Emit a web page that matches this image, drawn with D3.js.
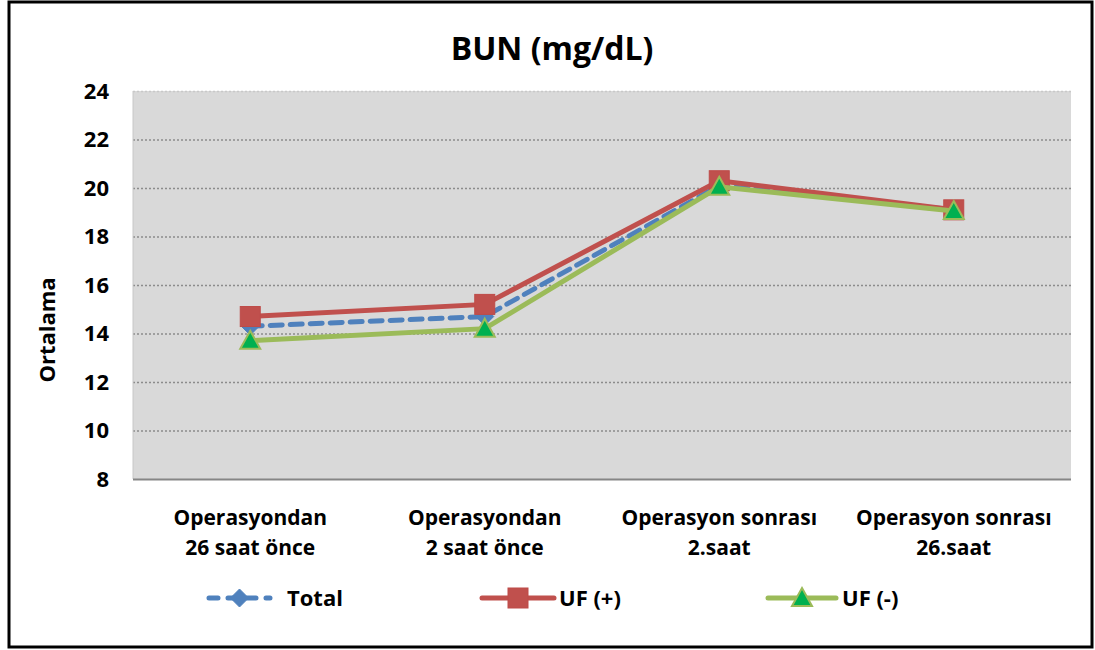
<!DOCTYPE html>
<html><head><meta charset="utf-8">
<script src="https://cdn.jsdelivr.net/npm/d3@7"></script>
<style>body{margin:0;background:#fff;}svg{display:block;font-family:"Open Sans",Lato,sans-serif;}</style>
</head><body><svg id="c" width="1095" height="650"></svg>
<script>
const categories = [["Operasyondan","26 saat önce"],["Operasyondan","2 saat önce"],["Operasyon sonrası","2.saat"],["Operasyon sonrası","26.saat"]];
const seriesNames = ["Total","UF (+)","UF (-)"];
const totalValues = [14.3, 14.7, 20.1, 19.1];
const ufPlusValues = [14.7, 15.2, 20.3, 19.1];
const ufMinusValues = [13.7, 14.2, 20.05, 19.05];
const yTicks = [8,10,12,14,16,18,20,22,24];
const title = "BUN (mg/dL)";
const yTitle = "Ortalama";

const svg = d3.select("#c");
svg.append("rect").attr("x",9).attr("y",2).attr("width",1083).attr("height",645)
  .attr("fill","#fff").attr("stroke","#000").attr("stroke-width",3);

const L=133, R=1071, T=91, B=479;
const x = d3.scaleBand().domain(d3.range(categories.length)).range([L,R]);
const y = d3.scaleLinear().domain([8,24]).range([B,T]);

svg.append("rect").attr("x",L).attr("y",T).attr("width",R-L).attr("height",B-T).attr("fill","#d9d9d9");
svg.append("g").selectAll("line").data(yTicks.filter(t=>t>8)).join("line")
  .attr("x1",L).attr("x2",R).attr("y1",d=>y(d)+0.5).attr("y2",d=>y(d)+0.5)
  .attr("stroke",d=>d===24?"#c8c8c8":"#8c8c8c").attr("stroke-width",1.5).attr("stroke-dasharray","2,2");
svg.append("line").attr("x1",L).attr("x2",L).attr("y1",T).attr("y2",B).attr("stroke","#c8c8c8").attr("stroke-width",1);
const yAxis = d3.axisLeft(y).tickValues(yTicks).tickSize(0).tickPadding(24);
const ga = svg.append("g").attr("transform",`translate(${L},0)`).call(yAxis);
ga.select(".domain").remove();
ga.selectAll("text").attr("font-size",22).attr("font-weight","bold").attr("fill","#000").attr("font-family","'Open Sans',sans-serif");
svg.append("line").attr("x1",L).attr("x2",R).attr("y1",B+0.5).attr("y2",B+0.5).attr("stroke","#868686").attr("stroke-width",2);
const cg = svg.append("g");
categories.forEach((c,i)=>{
  const t = cg.append("text").attr("x",x(i)+x.bandwidth()/2).attr("text-anchor","middle")
    .attr("font-size",21).attr("font-weight","bold").attr("fill","#000");
  c.forEach((line,j)=>t.append("tspan").attr("x",x(i)+x.bandwidth()/2).attr("y",525+j*30).text(line));
});
svg.append("text").attr("x",552).attr("y",60).attr("text-anchor","middle").attr("font-size",32).attr("font-weight","bold").text(title);
svg.append("text").attr("transform","translate(55,330) rotate(-90)").attr("text-anchor","middle").attr("font-size",22).attr("font-weight","bold").text(yTitle);

const cx = i => x(i)+x.bandwidth()/2;
const line = d3.line().x((d,i)=>cx(i)).y(d=>y(d));
const series = [
  {name:seriesNames[0], vals:totalValues, color:"#4f81bd", dash:"12,8", marker:"diamond"},
  {name:seriesNames[1], vals:ufPlusValues, color:"#c0504d", dash:null, marker:"square"},
  {name:seriesNames[2], vals:ufMinusValues, color:"#9bbb59", dash:null, marker:"triangle"}
];
function drawMarker(g, type, px, py){
  if(type==="diamond"){
    g.append("path").attr("d",`M${px},${py-9}L${px+9},${py}L${px},${py+9}L${px-9},${py}Z`).attr("fill","#4f81bd").attr("stroke","#4f81bd").attr("stroke-width",1);
  } else if(type==="square"){
    g.append("rect").attr("x",px-10).attr("y",py-10).attr("width",20).attr("height",20).attr("fill","#c0504d").attr("stroke","#be4b48").attr("stroke-width",1);
  } else {
    g.append("path").attr("d",`M${px},${py-10}L${px+10},${py+8}L${px-10},${py+8}Z`).attr("fill","#00b050").attr("stroke","#9bbb59").attr("stroke-width",2);
  }
}
series.forEach(s=>{
  const g = svg.append("g");
  g.append("path").datum(s.vals).attr("d",line).attr("fill","none").attr("stroke",s.color)
    .attr("stroke-width",5).attr("stroke-linecap","round").attr("stroke-dasharray",s.dash);
  s.vals.forEach((v,i)=>drawMarker(g,s.marker,cx(i),y(v)));
});
const leg = [{x0:209,x1:270,tx:287},{x0:482,x1:554,tx:559},{x0:768,x1:836,tx:842}];
series.forEach((s,i)=>{
  const g = svg.append("g"); const l = leg[i]; const ly = 598;
  g.append("line").attr("x1",l.x0).attr("x2",l.x1).attr("y1",ly).attr("y2",ly).attr("stroke",s.color).attr("stroke-width",5)
    .attr("stroke-linecap","round").attr("stroke-dasharray",s.dash?"9,10":null);
  drawMarker(g,s.marker,(l.x0+l.x1)/2,ly);
  g.append("text").attr("x",l.tx).attr("y",ly+8).attr("font-size",22).attr("font-weight","bold").text(s.name);
});
</script></body></html>
